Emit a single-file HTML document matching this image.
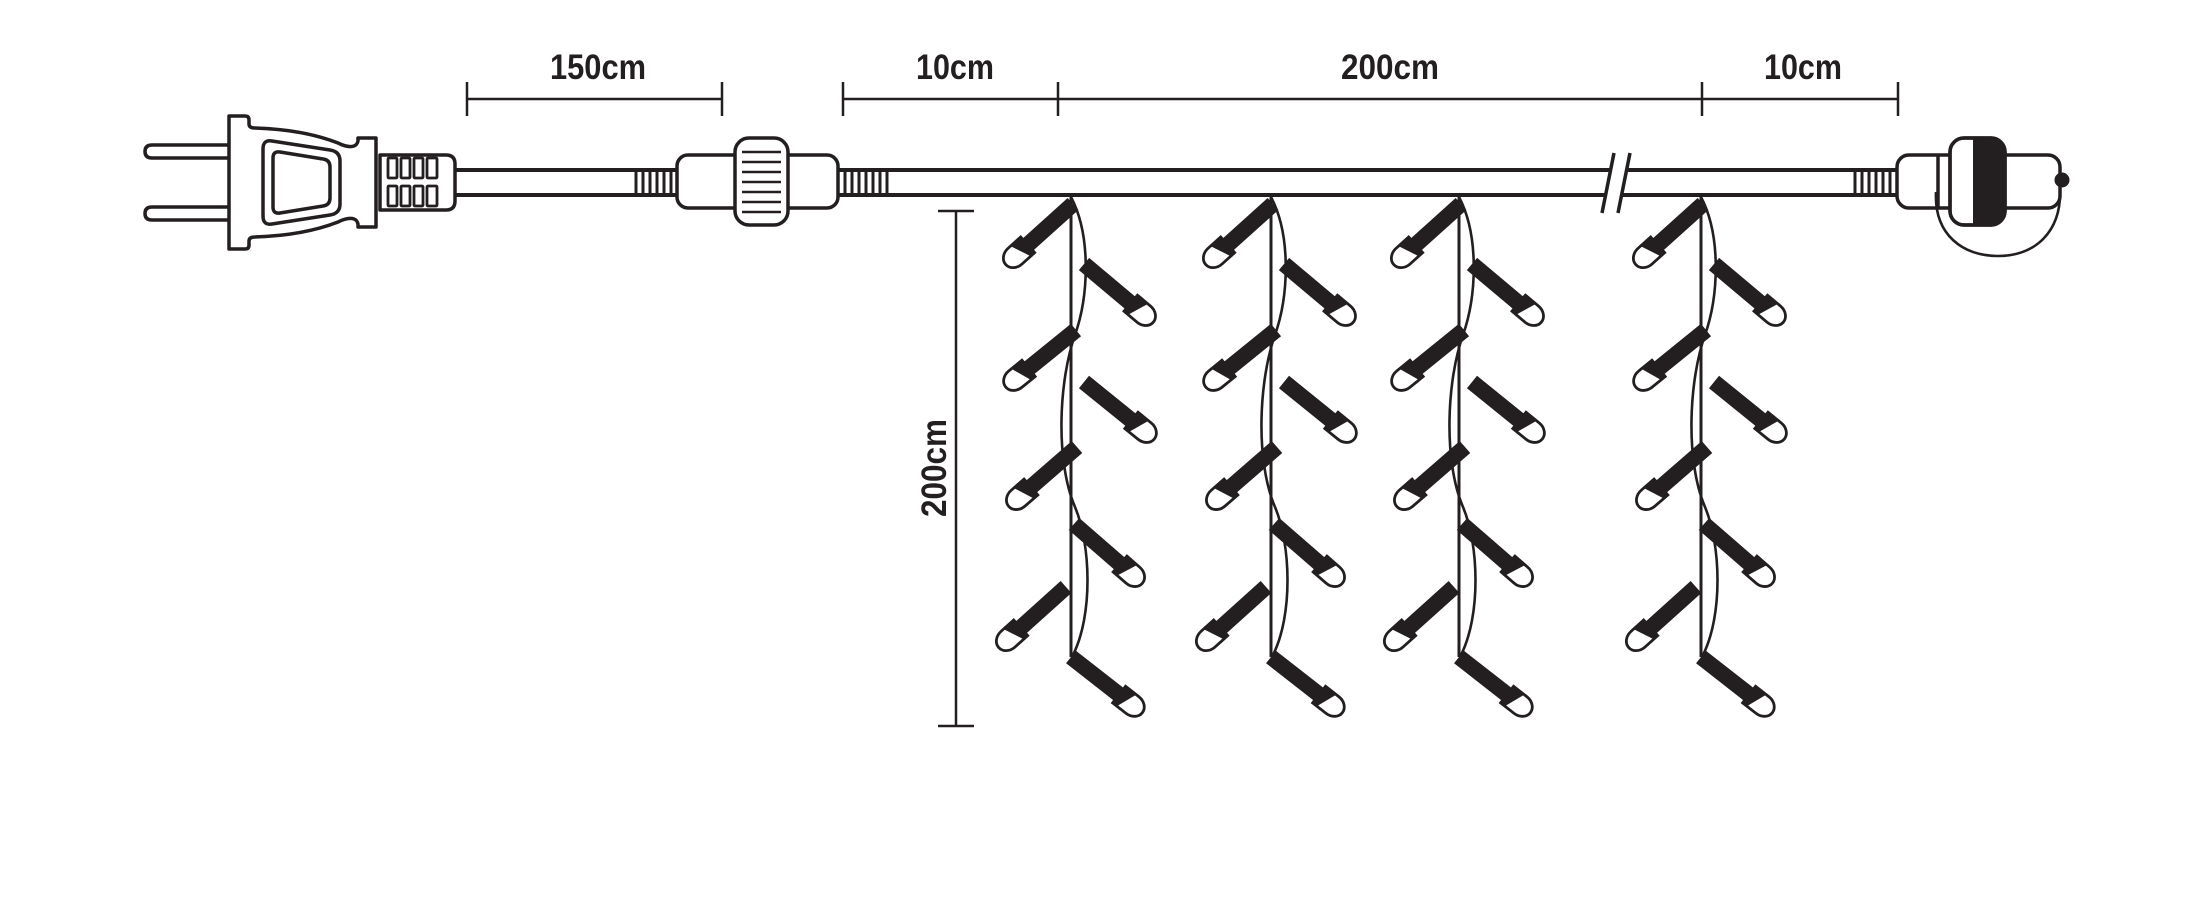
<!DOCTYPE html>
<html>
<head>
<meta charset="utf-8">
<style>
  html, body { margin:0; padding:0; background:#fff; }
  svg { display:block; }
  .t { font-family: "Liberation Sans Narrow", "Liberation Sans", sans-serif; font-weight:bold; font-size:35px; fill:#231f20; }
</style>
</head>
<body>
<svg width="2191" height="900" viewBox="0 0 2191 900" xmlns="http://www.w3.org/2000/svg">
  <defs>
    <g id="led">
      <path d="M61,-10.5 H78 A12.5,10.5 0 0 1 78,10.5 H61 Z" fill="#fff" stroke="#231f20" stroke-width="2.8"/>
      <polygon points="0,-8 61,-8 61,-11.5 75,-11.5 66,11.5 61,11.5 61,8 0,8" fill="#231f20"/>
    </g>
    <g id="col">
      <line x1="0" y1="195" x2="0" y2="657" stroke="#231f20" stroke-width="3"/>
      <path d="M0,197 C20,235 18,295 4,335 C-12,380 -16,460 4,507 C20,545 22,615 2,655" fill="none" stroke="#231f20" stroke-width="2.6"/>
      <use href="#led" transform="translate(2,204) scale(-1,1) rotate(42)"/>
      <use href="#led" transform="translate(13,264) rotate(40)"/>
      <use href="#led" transform="translate(5,330) scale(-1,1) rotate(39)"/>
      <use href="#led" transform="translate(13,382) rotate(39)"/>
      <use href="#led" transform="translate(6,447) scale(-1,1) rotate(41)"/>
      <use href="#led" transform="translate(3,524) rotate(41)"/>
      <use href="#led" transform="translate(-5,587) scale(-1,1) rotate(42)"/>
      <use href="#led" transform="translate(0,657) rotate(38)"/>
    </g>
    <clipPath id="ringclip">
      <rect x="1950" y="138" width="55" height="87" rx="14"/>
    </clipPath>
  </defs>

  <rect width="2191" height="900" fill="#fff"/>

  <!-- dimension lines -->
  <g stroke="#231f20" stroke-width="2.5" fill="none">
    <line x1="467" y1="99" x2="722" y2="99"/>
    <line x1="467" y1="82" x2="467" y2="116"/>
    <line x1="722" y1="82" x2="722" y2="116"/>
    <line x1="843" y1="99" x2="1898" y2="99"/>
    <line x1="843" y1="82" x2="843" y2="116"/>
    <line x1="1058" y1="82" x2="1058" y2="116"/>
    <line x1="1702" y1="82" x2="1702" y2="116"/>
    <line x1="1898" y1="82" x2="1898" y2="116"/>
    <!-- vertical -->
    <line x1="956" y1="211" x2="956" y2="726"/>
    <line x1="938" y1="211" x2="974" y2="211"/>
    <line x1="938" y1="726" x2="974" y2="726"/>
  </g>
  <text class="t" x="598" y="79" text-anchor="middle" textLength="96" lengthAdjust="spacingAndGlyphs">150cm</text>
  <text class="t" x="955" y="79" text-anchor="middle" textLength="78" lengthAdjust="spacingAndGlyphs">10cm</text>
  <text class="t" x="1390" y="79" text-anchor="middle" textLength="98" lengthAdjust="spacingAndGlyphs">200cm</text>
  <text class="t" x="1803" y="79" text-anchor="middle" textLength="78" lengthAdjust="spacingAndGlyphs">10cm</text>
  <text class="t" transform="translate(946,468) rotate(-90)" x="0" y="0" text-anchor="middle" textLength="98" lengthAdjust="spacingAndGlyphs">200cm</text>

  <!-- cable lines -->
  <g stroke="#231f20" stroke-width="4" fill="none">
    <line x1="450" y1="170" x2="680" y2="170"/>
    <line x1="450" y1="195" x2="680" y2="195"/>
    <line x1="836" y1="170" x2="1610" y2="170"/>
    <line x1="836" y1="195" x2="1605" y2="195"/>
    <line x1="1627" y1="170" x2="1900" y2="170"/>
    <line x1="1621" y1="195" x2="1900" y2="195"/>
    <!-- break slashes -->
    <line x1="1614" y1="153" x2="1602" y2="213" stroke-width="3.5"/>
    <line x1="1630" y1="153" x2="1618" y2="213" stroke-width="3.5"/>
  </g>

  <!-- ribbed sleeves -->
  <g stroke="#231f20" stroke-width="3" fill="none">
    <line x1="636" y1="170" x2="636" y2="195"/>
    <line x1="643" y1="170" x2="643" y2="195"/>
    <line x1="650" y1="170" x2="650" y2="195"/>
    <line x1="657" y1="170" x2="657" y2="195"/>
    <line x1="664" y1="170" x2="664" y2="195"/>
    <line x1="671" y1="170" x2="671" y2="195"/>

    <line x1="845" y1="170" x2="845" y2="195"/>
    <line x1="852" y1="170" x2="852" y2="195"/>
    <line x1="859" y1="170" x2="859" y2="195"/>
    <line x1="866" y1="170" x2="866" y2="195"/>
    <line x1="873" y1="170" x2="873" y2="195"/>
    <line x1="880" y1="170" x2="880" y2="195"/>
    <line x1="887" y1="170" x2="887" y2="195"/>

    <line x1="1855" y1="170" x2="1855" y2="195"/>
    <line x1="1862" y1="170" x2="1862" y2="195"/>
    <line x1="1869" y1="170" x2="1869" y2="195"/>
    <line x1="1876" y1="170" x2="1876" y2="195"/>
    <line x1="1883" y1="170" x2="1883" y2="195"/>
    <line x1="1890" y1="170" x2="1890" y2="195"/>
  </g>

  <!-- plug -->
  <g stroke="#231f20" stroke-width="3.5" fill="#fff" stroke-linejoin="round">
    <path d="M230,145 H152 Q145,145 145,151.5 Q145,158 152,158 H230"/>
    <path d="M230,207 H152 Q145,207 145,213.5 Q145,220 152,220 H230"/>
    <path d="M229,116 H245 Q249,116 249,120 V124 Q249,128 255,128 C286,129 315,134 338,143 Q348,148 354,146 Q357,145 358,141 V138 H376 V227 H358 V224 Q357,220 354,219 Q348,217 338,222 C315,231 286,236 255,237 Q249,237 249,241 V245 Q249,249 245,249 H229 Z"/>
    <path d="M272,141 L330,150 Q340,151.5 340,161 V204 Q340,213.5 330,215 L272,224 Q263,225.5 263,216 V149 Q263,139.5 272,141 Z"/>
    <path d="M280,152 L323,159 Q330,160 330,167 V198 Q330,205 323,206 L280,213 Q273,214 273,207 V158 Q273,151 280,152 Z"/>
    <path d="M380,155 H446 Q455,155 455,164 V201 Q455,210 446,210 H380 Z"/>
  </g>
  <g stroke="#231f20" stroke-width="2.8" fill="none">
    <rect x="388" y="158" width="9" height="20" rx="1"/>
    <rect x="401" y="158" width="9" height="20" rx="1"/>
    <rect x="414" y="158" width="9" height="20" rx="1"/>
    <rect x="427" y="158" width="10" height="20" rx="1"/>
    <rect x="388" y="186" width="9" height="20" rx="1"/>
    <rect x="401" y="186" width="9" height="20" rx="1"/>
    <rect x="414" y="186" width="9" height="20" rx="1"/>
    <rect x="427" y="186" width="10" height="20" rx="1"/>
  </g>

  <!-- connector 1 -->
  <g stroke="#231f20" stroke-width="3.5" fill="#fff">
    <rect x="677" y="155" width="161" height="53" rx="11"/>
    <rect x="735" y="138" width="53" height="87" rx="14"/>
  </g>
  <g stroke="#231f20" stroke-width="2.6">
    <line x1="742" y1="152" x2="781" y2="152"/>
    <line x1="742" y1="162" x2="781" y2="162"/>
    <line x1="742" y1="172" x2="781" y2="172"/>
    <line x1="742" y1="182" x2="781" y2="182"/>
    <line x1="742" y1="192" x2="781" y2="192"/>
    <line x1="742" y1="202" x2="781" y2="202"/>
    <line x1="742" y1="212" x2="781" y2="212"/>
  </g>

  <!-- end connector -->
  <g stroke="#231f20" stroke-width="3.5" fill="#fff">
    <rect x="1897" y="155" width="163" height="53" rx="12"/>
    <line x1="1938" y1="155" x2="1938" y2="208"/>
    <rect x="1950" y="138" width="55" height="87" rx="14"/>
  </g>
  <rect x="1973" y="130" width="40" height="100" fill="#231f20" clip-path="url(#ringclip)"/>
  <rect x="1950" y="138" width="55" height="87" rx="14" fill="none" stroke="#231f20" stroke-width="3.5"/>
  <circle cx="2062" cy="180" r="7.5" fill="#231f20"/>
  <path d="M1936,192 C1934,235 1963,256 1998,256 C2035,256 2062,232 2060,188" fill="none" stroke="#231f20" stroke-width="2.6"/>

  <!-- light columns -->
  <use href="#col" transform="translate(1071,0)"/>
  <use href="#col" transform="translate(1271,0)"/>
  <use href="#col" transform="translate(1459,0)"/>
  <use href="#col" transform="translate(1701,0)"/>
</svg>
</body>
</html>
